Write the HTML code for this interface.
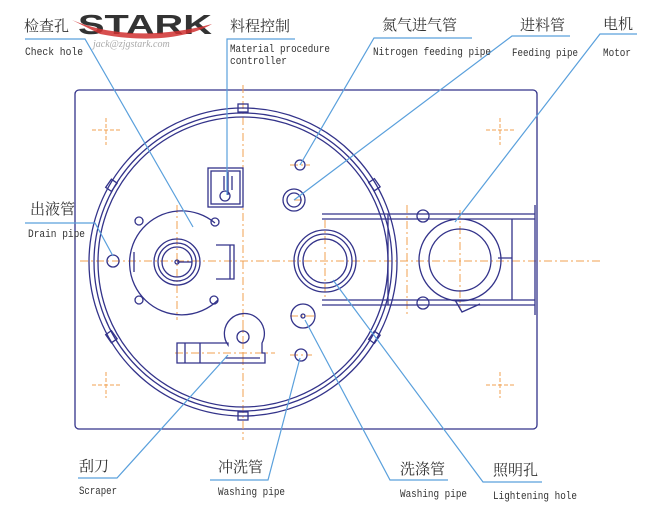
<!DOCTYPE html>
<html><head><meta charset="utf-8"><style>
body{margin:0;background:#fff;width:655px;height:523px;overflow:hidden}
svg{display:block}
.cn{font-family:"Liberation Serif","Noto Serif CJK SC",serif;font-size:15px;fill:#333}
.en{font-family:"Liberation Mono",monospace;font-size:11px;fill:#333}
.b{fill:none;stroke:#33338a;stroke-width:1.3}
.o{fill:none;stroke:#f0a050;stroke-width:1;stroke-dasharray:8 3 2 3}
.l{fill:none;stroke:#5aa0dc;stroke-width:1.2}
</style></head><body>
<svg width="655" height="523" viewBox="0 0 655 523">
<rect x="75" y="90" width="462" height="339" rx="4" class="b"/>
<g class="o" style="stroke-dasharray:4 2">
<path d="M92 130H120M106 118V145M486 130H514M500 118V145M92 385H120M106 372V398M486 385H514M500 372V398"/>
</g>
<path class="o" d="M80 261H600M243 85V440M177 205V320M325 220V300M407 205V315M460 210V310M243 320V360M175 353H275M290 165H310M294 200H305M290 316H315M290 355H312"/>
<circle cx="243" cy="262" r="154" class="b"/>
<circle cx="243" cy="262" r="149" class="b"/>
<circle cx="243" cy="262" r="145" class="b"/>
<rect x="238" y="104" width="10" height="8" class="b"/>
<rect x="238" y="412" width="10" height="8" class="b"/>
<rect x="108" y="180" width="7" height="10" class="b" transform="rotate(35 111 185)"/>
<rect x="108" y="332" width="7" height="10" class="b" transform="rotate(-35 111 337)"/>
<rect x="371" y="180" width="7" height="10" class="b" transform="rotate(-35 374 185)"/>
<rect x="371" y="332" width="7" height="10" class="b" transform="rotate(35 374 337)"/>
<path class="b" d="M215 223A52 52 0 1 0 218 300"/>
<circle cx="177" cy="262" r="23" class="b"/><circle cx="177" cy="262" r="19" class="b"/><circle cx="177" cy="262" r="15" class="b"/>
<path class="b" d="M177 262H192"/><circle cx="177" cy="262" r="2" class="b"/>
<path class="b" d="M134 252V272M216 245H234V279H216M230 245V279"/>
<circle cx="139" cy="221" r="4" class="b"/><circle cx="215" cy="222" r="4" class="b"/>
<circle cx="139" cy="300" r="4" class="b"/><circle cx="214" cy="300" r="4" class="b"/>
<circle cx="113" cy="261" r="6" class="b"/>
<rect x="208" y="168" width="35" height="39" class="b"/><rect x="211" y="171" width="29" height="33" class="b"/>
<path class="b" d="M224 176V190M232 176V190M228 172V195"/><circle cx="225" cy="196" r="5" class="b"/>
<circle cx="300" cy="165" r="5" class="b"/>
<circle cx="294" cy="200" r="11" class="b"/><circle cx="294" cy="200" r="7" class="b"/>
<circle cx="303" cy="316" r="12" class="b"/><circle cx="303" cy="316" r="2" class="b"/>
<circle cx="301" cy="355" r="6" class="b"/>
<circle cx="325" cy="261" r="31" class="b"/><circle cx="325" cy="261" r="27" class="b"/><circle cx="325" cy="261" r="22" class="b"/>
<path class="b" d="M228 345A20 20 0 1 1 262 343V353H265V363H177V343H228Z"/>
<circle cx="243" cy="337" r="6" class="b"/>
<path class="b" d="M185 343V363M200 343V363M225 358H260"/>
<path class="b" d="M322 214H535M322 219H535M322 300H535M322 305H535M535 205V315M388 214V305M512 219V300M498 258H512"/>
<circle cx="423" cy="216" r="6" class="b"/><circle cx="423" cy="303" r="6" class="b"/>
<circle cx="460" cy="260" r="41" class="b"/><circle cx="460" cy="260" r="31" class="b"/>
<path class="b" d="M455 300L462 312L480 304"/>
<path class="l" d="M25 39H85L193 227"/>
<path class="l" d="M295 39H227V195"/>
<path class="l" d="M472 38H374L300 165"/>
<path class="l" d="M570 36H512L294 200"/>
<path class="l" d="M637 34H600L455 222"/>
<path class="l" d="M25 223H95L113 256"/>
<path class="l" d="M78 478H117L228 355"/>
<path class="l" d="M210 480H268L300 358"/>
<path class="l" d="M448 480H390L305 320"/>
<path class="l" d="M542 482H483L333 280"/>
<text x="78" y="34" textLength="134" lengthAdjust="spacingAndGlyphs" style="font-family:'Liberation Sans',sans-serif;font-weight:900;font-size:28px;fill:#333">STARK</text>
<path d="M72 20C110 36 160 38 212 24C185 40 140 42 100 34Z" fill="#d03030" opacity="0.85"/>
<text x="93" y="47" style="font-family:'Liberation Serif',serif;font-style:italic;font-size:10px;fill:#aaa">jack@zjgstark.com</text>
<text x="24" y="31" class="cn">检查孔</text>
<text x="25" y="55" class="en" textLength="58" lengthAdjust="spacingAndGlyphs">Check hole</text>
<text x="230" y="31" class="cn">料程控制</text>
<text x="230" y="52" class="en" textLength="100" lengthAdjust="spacingAndGlyphs">Material procedure</text>
<text x="230" y="64" class="en" textLength="57" lengthAdjust="spacingAndGlyphs">controller</text>
<text x="382" y="30" class="cn">氮气进气管</text>
<text x="373" y="55" class="en" textLength="118" lengthAdjust="spacingAndGlyphs">Nitrogen feeding pipe</text>
<text x="520" y="30" class="cn">进料管</text>
<text x="512" y="56" class="en" textLength="66" lengthAdjust="spacingAndGlyphs">Feeding pipe</text>
<text x="603" y="29" class="cn">电机</text>
<text x="603" y="56" class="en" textLength="28" lengthAdjust="spacingAndGlyphs">Motor</text>
<text x="30" y="214" class="cn">出液管</text>
<text x="28" y="237" class="en" textLength="57" lengthAdjust="spacingAndGlyphs">Drain pipe</text>
<text x="79" y="471" class="cn">刮刀</text>
<text x="79" y="494" class="en" textLength="38" lengthAdjust="spacingAndGlyphs">Scraper</text>
<text x="218" y="472" class="cn">冲洗管</text>
<text x="218" y="495" class="en" textLength="67" lengthAdjust="spacingAndGlyphs">Washing pipe</text>
<text x="400" y="474" class="cn">洗涤管</text>
<text x="400" y="497" class="en" textLength="67" lengthAdjust="spacingAndGlyphs">Washing pipe</text>
<text x="493" y="475" class="cn">照明孔</text>
<text x="493" y="499" class="en" textLength="84" lengthAdjust="spacingAndGlyphs">Lightening hole</text>
</svg>
</body></html>
